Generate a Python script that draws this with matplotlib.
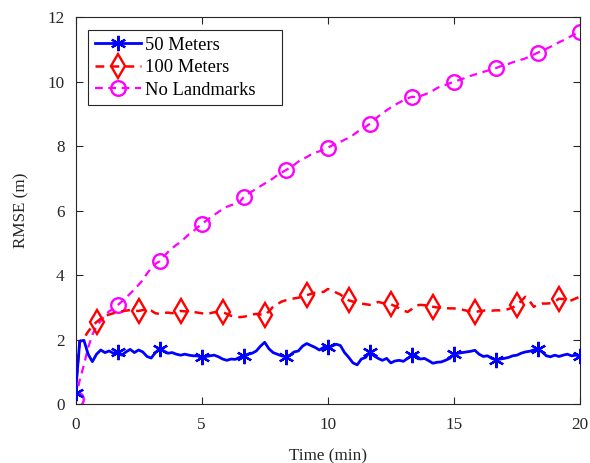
import matplotlib
matplotlib.use('Agg')
import matplotlib.pyplot as plt
import numpy as np

# ── data (RMSE in metres, sampled every 1/6 min) ─────────────────────────────
time_min = np.linspace(0, 20, 121)

rmse_50m = [
    0.35, 1.95, 1.98, 1.55, 1.32, 1.55, 1.68, 1.60, 1.65, 1.58,
    1.62, 1.52, 1.62, 1.70, 1.60, 1.68, 1.62, 1.48, 1.43, 1.60,
    1.72, 1.65, 1.58, 1.60, 1.55, 1.52, 1.55, 1.52, 1.50, 1.50,
    1.45, 1.48, 1.50, 1.52, 1.47, 1.40, 1.36, 1.40, 1.39, 1.45,
    1.50, 1.55, 1.58, 1.65, 1.80, 1.92, 1.72, 1.60, 1.55, 1.50,
    1.47, 1.52, 1.62, 1.65, 1.80, 1.88, 1.82, 1.76, 1.68, 1.76,
    1.76, 1.80, 1.86, 1.82, 1.60, 1.45, 1.28, 1.22, 1.40, 1.45,
    1.62, 1.50, 1.42, 1.36, 1.42, 1.28, 1.34, 1.36, 1.33, 1.42,
    1.52, 1.50, 1.40, 1.42, 1.35, 1.27, 1.30, 1.31, 1.36, 1.42,
    1.55, 1.58, 1.60, 1.62, 1.64, 1.67, 1.55, 1.48, 1.50, 1.42,
    1.38, 1.40, 1.42, 1.45, 1.50, 1.52, 1.58, 1.62, 1.64, 1.68,
    1.72, 1.62, 1.50, 1.47, 1.52, 1.48, 1.52, 1.55, 1.50, 1.52,
    1.50,
]

rmse_100m = [
    0.35, 1.95, 2.05, 2.25, 2.42, 2.55, 2.65, 2.74, 2.78, 2.82,
    2.86, 2.88, 2.90, 2.92, 2.90, 2.89, 2.92, 2.93, 2.90, 2.82,
    2.80, 2.83, 2.84, 2.82, 2.86, 2.89, 2.88, 2.86, 2.86, 2.84,
    2.82, 2.80, 2.82, 2.85, 2.86, 2.86, 2.80, 2.74, 2.71, 2.70,
    2.71, 2.74, 2.78, 2.80, 2.78, 2.76, 2.88, 3.02, 3.10, 3.18,
    3.22, 3.25, 3.28, 3.30, 3.34, 3.38, 3.42, 3.46, 3.48, 3.48,
    3.57, 3.55, 3.46, 3.40, 3.30, 3.22, 3.18, 3.15, 3.12, 3.10,
    3.08, 3.12, 3.17, 3.14, 3.12, 3.10, 3.04, 2.97, 2.90, 2.86,
    2.95, 3.06, 3.08, 3.07, 3.05, 3.02, 3.00, 2.98, 2.98, 2.97,
    2.97, 2.96, 2.93, 2.90, 2.88, 2.86, 2.88, 2.90, 2.91, 2.90,
    2.91, 2.91, 2.92, 2.95, 3.00, 3.07, 3.20, 3.33, 3.20, 3.02,
    3.08, 3.12, 3.12, 3.13, 3.18, 3.27, 3.26, 3.22, 3.22, 3.28,
    3.33,
]

rmse_none = [
    0.15, 0.75, 1.22, 1.75, 2.15, 2.42, 2.58, 2.76, 2.88, 2.96,
    3.07, 3.18, 3.30, 3.43, 3.56, 3.70, 3.85, 4.05, 4.22, 4.35,
    4.43, 4.58, 4.72, 4.84, 4.94, 5.03, 5.15, 5.27, 5.36, 5.48,
    5.58, 5.68, 5.78, 5.87, 5.96, 6.05, 6.12, 6.17, 6.21, 6.26,
    6.42, 6.52, 6.60, 6.68, 6.76, 6.84, 6.92, 7.00, 7.10, 7.18,
    7.25, 7.34, 7.42, 7.52, 7.60, 7.66, 7.74, 7.80, 7.84, 7.90,
    7.95, 8.02, 8.08, 8.13, 8.20, 8.26, 8.34, 8.44, 8.52, 8.60,
    8.69, 8.80, 8.92, 9.02, 9.11, 9.20, 9.28, 9.35, 9.42, 9.48,
    9.53, 9.52, 9.55, 9.60, 9.65, 9.72, 9.80, 9.86, 9.90, 9.95,
    9.99, 10.04, 10.08, 10.14, 10.18, 10.22, 10.26, 10.30, 10.34, 10.38,
    10.42, 10.47, 10.52, 10.55, 10.60, 10.64, 10.68, 10.72, 10.78, 10.84,
    10.90, 10.96, 11.02, 11.08, 11.15, 11.22, 11.28, 11.35, 11.42, 11.49,
    11.55,
]

series_labels = ['50 Meters', '100 Meters', 'No Landmarks']

# ── figure ───────────────────────────────────────────────────────────────────
plt.rcParams['font.family'] = ['Liberation Serif', 'DejaVu Serif']
AX_COL = '#262626'
FS = 12.3       # ticks / axis labels
FS_LEG = 13.3   # legend

fig = plt.figure(figsize=(5.90, 4.63), dpi=100)
ax = fig.add_axes([0.128, 0.127, 0.855, 0.836])

# asterisk marker like MATLAB '*': 6 spokes
ast = (6, 2, 0)
ax.plot(time_min, rmse_50m, color='#0000FF', lw=2.0, ls='-',
        marker=ast, ms=11, mew=1.6, markevery=(0, 10),
        label=series_labels[0], zorder=3)
ax.plot(time_min, rmse_100m, color='#FF0000', lw=1.8, ls=(0, (3.5, 2.5)),
        marker='d', ms=12, mfc='none', mew=1.7, markevery=(5, 10),
        label=series_labels[1], zorder=2)
ax.plot(time_min, rmse_none, color='#FF00FF', lw=1.6, ls=(0, (3.5, 2.5)),
        marker='o', ms=10.5, mfc='none', mew=1.7, markevery=(0, 10),
        label=series_labels[2], zorder=1)

ax.set_xlim(0, 20)
ax.set_ylim(0, 12)
ax.set_xticks([0, 5, 10, 15, 20])
ax.set_yticks([0, 2, 4, 6, 8, 10, 12])
ax.tick_params(direction='in', top=True, right=True, length=5,
               width=0.8, color=AX_COL, labelcolor=AX_COL, labelsize=FS)
ax.tick_params(axis='x', pad=9)
ax.tick_params(axis='y', pad=8)
for s in ax.spines.values():
    s.set_color(AX_COL)
    s.set_linewidth(0.8)

ax.set_xlabel('Time (min)', fontsize=FS, color=AX_COL, labelpad=11)
ax.set_ylabel('RMSE (m)', fontsize=FS, color=AX_COL, labelpad=13)

leg = ax.legend(loc='upper left', bbox_to_anchor=(0.025, 0.766, 0.385, 0.2),
                mode='expand', borderaxespad=0, fontsize=FS_LEG,
                handlelength=2.5, handletextpad=0.25, labelspacing=0.3,
                borderpad=0.35, fancybox=False, framealpha=1,
                edgecolor=AX_COL)
leg.get_frame().set_linewidth(0.8)

fig.savefig('out.png', dpi=100, facecolor='white')
plt.close(fig)
